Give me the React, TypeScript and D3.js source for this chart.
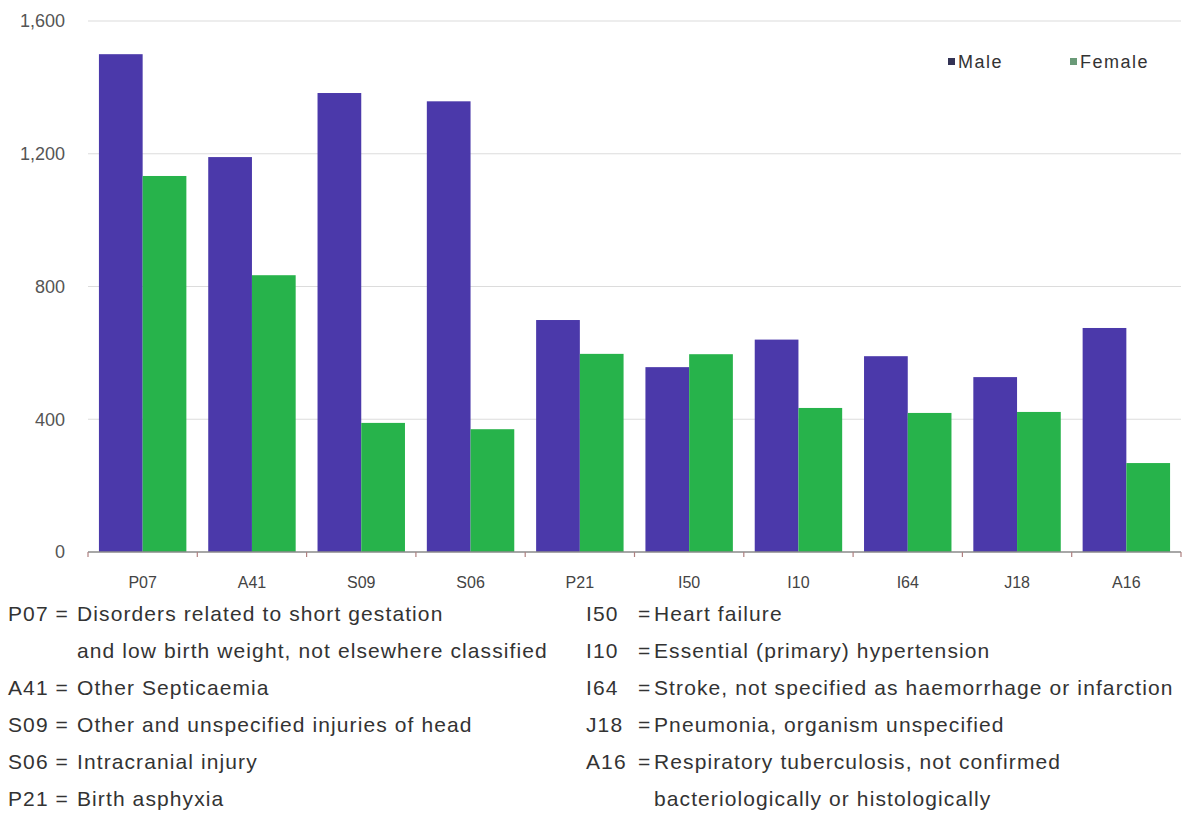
import * as d3 from 'd3';

const codes = ['P07', 'A41', 'S09', 'S06', 'P21', 'I50', 'I10', 'I64', 'J18', 'A16'];
const maleValues = [1500, 1190, 1383, 1358, 699, 557, 640, 590, 527, 675];
const femaleValues = [1133, 834, 389, 370, 597, 596, 434, 419, 422, 268];
const seriesNames = ['Male', 'Female'];
const yTicks = [0, 400, 800, 1200, 1600];

const leftNotes = [
  { code: 'P07', text: 'Disorders related to short gestation' },
  { code: '', text: 'and low birth weight, not elsewhere classified' },
  { code: 'A41', text: 'Other Septicaemia' },
  { code: 'S09', text: 'Other and unspecified injuries of head' },
  { code: 'S06', text: 'Intracranial injury' },
  { code: 'P21', text: 'Birth asphyxia' },
];
const rightNotes = [
  { code: 'I50', text: 'Heart failure' },
  { code: 'I10', text: 'Essential (primary) hypertension' },
  { code: 'I64', text: 'Stroke, not specified as haemorrhage or infarction' },
  { code: 'J18', text: 'Pneumonia, organism unspecified' },
  { code: 'A16', text: 'Respiratory tuberculosis, not confirmed' },
  { code: '', text: 'bacteriologically or histologically' },
];

const colors = ['#4b39aa', '#27b34b'];
const font = '"Liberation Sans", Arial, sans-serif';

export default function App() {
  const width = 1188;
  const height = 823;
  const margin = { left: 88, right: 7, top: 21, bottom: 271 };
  const y0 = height - margin.bottom;

  const x = d3.scaleBand<string>()
    .domain(codes)
    .range([margin.left, width - margin.right])
    .paddingInner(0.2)
    .paddingOuter(0.1);

  const xSub = d3.scaleBand<string>()
    .domain(seriesNames)
    .range([0, x.bandwidth()]);

  const y = d3.scaleLinear()
    .domain([0, 1600])
    .range([y0, margin.top]);

  const step = x.step();
  const boundaries = codes.map((c) => (x(c) ?? 0) - step * 0.1).concat([width - margin.right]);

  const rowY = d3.scaleLinear().domain([0, 5]).range([614, 799]);

  const noteText = { fontFamily: font, fontSize: 21, fill: '#333', letterSpacing: 1.1 } as const;

  return (
    <div style={{ position: 'absolute', left: 0, top: 0 }}>
      <svg width={width} height={height} style={{ display: 'block', background: '#fff' }}>
        {/* gridlines */}
        {yTicks.filter((t) => t > 0).map((t) => (
          <line key={t} x1={margin.left} x2={width - margin.right} y1={y(t)} y2={y(t)}
            stroke="#dcdcdc" strokeWidth={1.2} />
        ))}
        {/* y tick labels */}
        {yTicks.map((t) => (
          <text key={t} x={65} y={y(t)} dy="0.35em" textAnchor="end"
            fontFamily={font} fontSize={18} fill="#555">
            {d3.format(',')(t)}
          </text>
        ))}
        {/* bars */}
        {codes.map((c, i) => (
          <g key={c} transform={`translate(${x(c)},0)`}>
            {[maleValues[i], femaleValues[i]].map((v, j) => (
              <rect key={j} x={xSub(seriesNames[j])} width={xSub.bandwidth()}
                y={y(v)} height={y0 - y(v)} fill={colors[j]} />
            ))}
          </g>
        ))}
        {/* x axis */}
        <line x1={margin.left} x2={width - margin.right} y1={y0} y2={y0} stroke="#8a8a8a" strokeWidth={1.5} />
        {boundaries.map((b, i) => (
          <line key={i} x1={b} x2={b} y1={y0} y2={y0 + 5} stroke="#b08080" strokeWidth={1.2} />
        ))}
        {codes.map((c) => (
          <text key={c} x={(x(c) ?? 0) + x.bandwidth() / 2} y={582} dy="0.35em" textAnchor="middle"
            fontFamily={font} fontSize={16} fill="#444">
            {c}
          </text>
        ))}
        {/* legend */}
        {seriesNames.map((s, i) => (
          <g key={s} transform={`translate(${i === 0 ? 948 : 1070},62)`}>
            <rect x={0} y={-4} width={7} height={7} fill={i === 0 ? '#333355' : '#6a9a78'} />
            <text x={10} y={0} dy="0.35em" fontFamily={font} fontSize={18} fill="#333" letterSpacing={1.5}>{s}</text>
          </g>
        ))}
        {/* code descriptions */}
        {leftNotes.map((n, i) => (
          <g key={'l' + i} transform={`translate(0,${rowY(i)})`}>
            {n.code && <text x={8} dy="0.35em" {...noteText}>{n.code + ' ='}</text>}
            <text x={77} dy="0.35em" {...noteText}>{n.text}</text>
          </g>
        ))}
        {rightNotes.map((n, i) => (
          <g key={'r' + i} transform={`translate(0,${rowY(i)})`}>
            {n.code && <text x={586} dy="0.35em" {...noteText}>{n.code}</text>}
            {n.code && <text x={638} dy="0.35em" {...noteText}>=</text>}
            <text x={654} dy="0.35em" {...noteText}>{n.text}</text>
          </g>
        ))}
      </svg>
    </div>
  );
}
